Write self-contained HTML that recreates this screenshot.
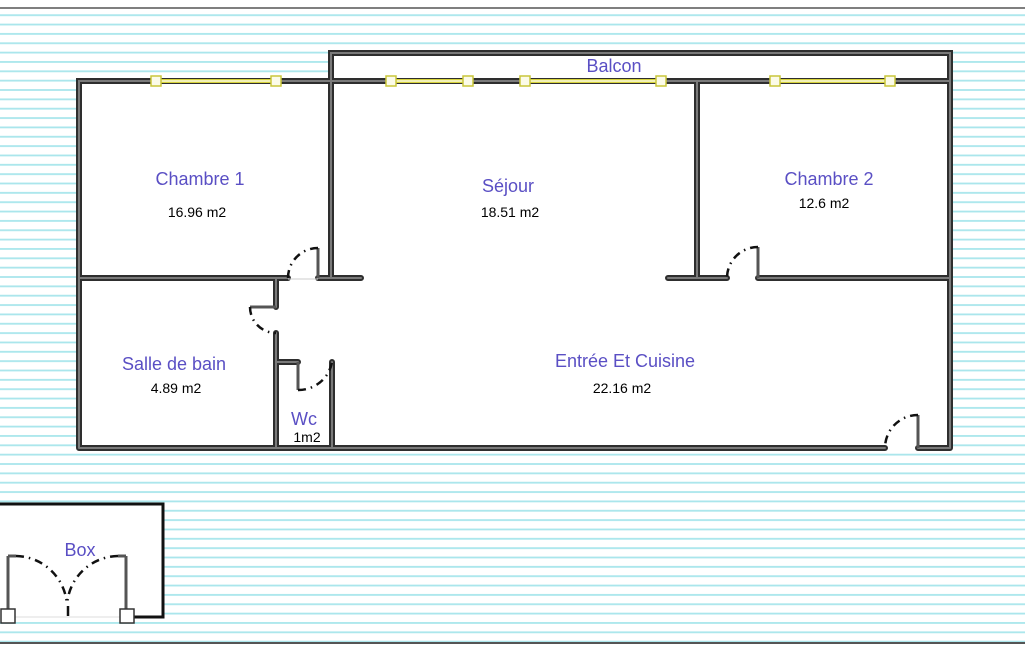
<!DOCTYPE html>
<html><head><meta charset="utf-8"><style>
html,body{margin:0;padding:0;background:#fff;}
svg{display:block;}
text{font-family:"Liberation Sans",sans-serif;}
.n{fill:#5a4fc4;font-size:18px;text-anchor:middle;}
.a{fill:#000;font-size:14px;text-anchor:middle;}
.lf{stroke:#555;stroke-width:3;fill:none;}
.arc{stroke:#111;stroke-width:2.5;fill:none;stroke-dasharray:8 5 1.5 5;}
.win{stroke:#d6d23a;stroke-width:4;fill:none;}
.wini{stroke:#fbfbe0;stroke-width:1.5;fill:none;}
.sq{fill:#fbfbe8;stroke:#c9c63a;stroke-width:1.5;}
</style></head><body>
<svg width="1025" height="650" viewBox="0 0 1025 650" xmlns="http://www.w3.org/2000/svg">
<defs>
<pattern id="st" x="0" y="10.3" width="20" height="9.35" patternUnits="userSpaceOnUse">
<rect x="0" y="4" width="20" height="1.8" fill="#a9e6ec"/>
</pattern>
</defs>
<rect x="0" y="9" width="1025" height="634" fill="url(#st)"/>
<line x1="0" y1="8" x2="1025" y2="8" stroke="#555" stroke-width="1.5"/>
<line x1="0" y1="643" x2="1025" y2="643" stroke="#555" stroke-width="2"/>
<polygon points="79,81 331,81 331,53 950,53 950,448 79,448" fill="#fff"/>
<rect x="0" y="504" width="163" height="113" fill="#fff"/>

<path fill="none" stroke="#2e2e2e" stroke-width="6" stroke-linecap="round" d="M79,448 V81 H950 M331,81 V53 H950 V448 M331,81 V278 H361 M79,278 H288 M318,278 H331 M697,81 V278 M668,278 H727 M758,278 H950 M276,278 V307 M276,333 V448 M276,362 H298 M332,362 V448 M79,448 H885 M918,448 H950"/>
<path fill="none" stroke="#7a7a7a" stroke-width="2" stroke-linecap="round" d="M79,448 V81 H950 M331,81 V53 H950 V448 M331,81 V278 H361 M79,278 H288 M318,278 H331 M697,81 V278 M668,278 H727 M758,278 H950 M276,278 V307 M276,333 V448 M276,362 H298 M332,362 V448 M79,448 H885 M918,448 H950"/>

<g>
<line class="win" x1="156" y1="81" x2="276" y2="81"/><line class="wini" x1="156" y1="81" x2="276" y2="81"/>
<line class="win" x1="391" y1="81" x2="468" y2="81"/><line class="wini" x1="391" y1="81" x2="468" y2="81"/>
<line class="win" x1="525" y1="81" x2="661" y2="81"/><line class="wini" x1="525" y1="81" x2="661" y2="81"/>
<line class="win" x1="775" y1="81" x2="890" y2="81"/><line class="wini" x1="775" y1="81" x2="890" y2="81"/>
<rect class="sq" x="151" y="76" width="10" height="10"/><rect class="sq" x="271" y="76" width="10" height="10"/>
<rect class="sq" x="386" y="76" width="10" height="10"/><rect class="sq" x="463" y="76" width="10" height="10"/>
<rect class="sq" x="520" y="76" width="10" height="10"/><rect class="sq" x="656" y="76" width="10" height="10"/>
<rect class="sq" x="770" y="76" width="10" height="10"/><rect class="sq" x="885" y="76" width="10" height="10"/>
</g>

<g>
<line class="lf" x1="318" y1="248" x2="318" y2="278"/>
<path class="arc" d="M318,248 A30,30 0 0 0 288,278"/>
<line stroke="#ccc" x1="288" y1="279" x2="318" y2="279"/>
<line class="lf" x1="250" y1="307" x2="276" y2="307"/>
<path class="arc" d="M250,307 A26,26 0 0 0 276,333"/>
<line class="lf" x1="298" y1="362" x2="298" y2="390"/>
<path class="arc" d="M298,390 A34,34 0 0 0 332,362"/>
<line class="lf" x1="758" y1="247" x2="758" y2="278"/>
<path class="arc" d="M758,247 A31,31 0 0 0 727,278"/>
<line class="lf" x1="918" y1="415" x2="918" y2="448"/>
<path class="arc" d="M918,415 A33,33 0 0 0 885,448"/>
</g>

<path d="M0,504 H163 V617 H127" stroke="#111" stroke-width="3" fill="none"/>
<line stroke="#ddd" stroke-width="1" x1="8" y1="617" x2="127" y2="617"/>
<line class="lf" x1="8" y1="556" x2="8" y2="614"/><line class="lf" x1="126" y1="556" x2="126" y2="614"/>
<path class="lf" d="M8,556 H16 M126,556 H118"/>
<path class="arc" d="M16,556 A52,52 0 0 1 67,605"/>
<path class="arc" d="M118,556 A52,52 0 0 0 67,605"/>
<line stroke="#111" stroke-width="2.5" x1="68" y1="606" x2="68" y2="616"/>
<rect x="1" y="609" width="14" height="14" fill="#fff" stroke="#333" stroke-width="1.5"/>
<rect x="120" y="609" width="14" height="14" fill="#fff" stroke="#333" stroke-width="1.5"/>

<text class="n" x="614" y="72">Balcon</text>
<text class="n" x="200" y="185">Chambre 1</text>
<text class="a" x="197" y="217">16.96 m2</text>
<text class="n" x="508" y="192">Séjour</text>
<text class="a" x="510" y="217">18.51 m2</text>
<text class="n" x="829" y="185">Chambre 2</text>
<text class="a" x="824" y="208">12.6 m2</text>
<text class="n" x="174" y="370">Salle de bain</text>
<text class="a" x="176" y="393">4.89 m2</text>
<text class="n" x="625" y="367">Entrée Et Cuisine</text>
<text class="a" x="622" y="393">22.16 m2</text>
<text class="n" x="304" y="425">Wc</text>
<text class="a" x="307" y="442">1m2</text>
<text class="n" x="80" y="556">Box</text>
</svg>
</body></html>
